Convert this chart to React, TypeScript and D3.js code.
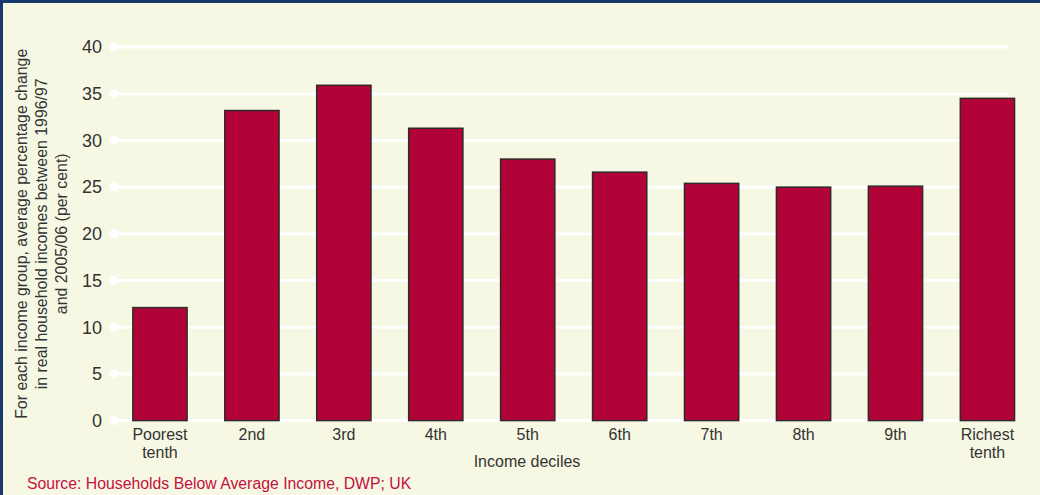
import React from "react";
import * as d3 from "d3";

const categories = ["Poorest tenth", "2nd", "3rd", "4th", "5th", "6th", "7th", "8th", "9th", "Richest tenth"];
const values = [12.1, 33.2, 35.9, 31.3, 28.0, 26.6, 25.4, 25.0, 25.1, 34.5];
const yTicks = [0, 5, 10, 15, 20, 25, 30, 35, 40];
const yTitleLines = [
  "For each income group, average percentage change",
  "in real household incomes between 1996/97",
  "and 2005/06 (per cent)",
];
const xTitle = "Income deciles";
const source = "Source: Households Below Average Income, DWP; UK";

const W = 1040;
const H = 495;
const FONT = "'Liberation Sans', Arial, Helvetica, sans-serif";

export default function App() {
  const x = d3
    .scaleBand<string>()
    .domain(categories)
    .range([114, 1033.4])
    .paddingInner(0.41)
    .paddingOuter(0.205);
  const y = d3.scaleLinear().domain([0, 40]).range([420.6, 47]);
  const gridX0 = 114;
  const gridX1 = 1009;
  const yMid = (y(0) + y(40)) / 2;

  return (
    <svg
      width={W}
      height={H}
      style={{ position: "absolute", left: 0, top: 0 }}
      fontFamily={FONT}
    >
      <rect x={0} y={0} width={W} height={H} fill="#f7f8e4" />
      <rect x={0} y={0} width={W} height={3} fill="#163a6c" />
      <rect x={0} y={0} width={3} height={H} fill="#163a6c" />

      {/* gridlines */}
      {yTicks.map((t) => (
        <g key={t}>
          <line x1={gridX0} x2={gridX1} y1={y(t)} y2={y(t)} stroke="#ffffff" strokeWidth={3} />
          <circle cx={gridX0} cy={y(t)} r={4.5} fill="#ffffff" />
          <text
            x={102}
            y={y(t)}
            dy="0.35em"
            textAnchor="end"
            fontSize={18}
            fill="#333333"
          >
            {t}
          </text>
        </g>
      ))}

      {/* bars */}
      {categories.map((c, i) => (
        <rect
          key={c}
          x={x(c)!}
          y={y(values[i])}
          width={x.bandwidth()}
          height={y(0) - y(values[i])}
          fill="#b10337"
          stroke="#2e2a2a"
          strokeWidth={1.5}
        />
      ))}

      {/* category labels */}
      {categories.map((c) => {
        const parts = c.split(" ");
        const cx = x(c)! + x.bandwidth() / 2;
        return (
          <text key={c} x={cx} textAnchor="middle" fontSize={16} fill="#333333">
            {parts.map((p, j) => (
              <tspan key={j} x={cx} y={439.5 + j * 18}>
                {p}
              </tspan>
            ))}
          </text>
        );
      })}

      {/* x title */}
      <text x={527} y={467} textAnchor="middle" fontSize={16} fill="#333333">
        {xTitle}
      </text>

      {/* y title */}
      <g transform={`translate(0, ${yMid}) rotate(-90)`}>
        {yTitleLines.map((l, i) => (
          <text key={i} x={0} y={27 + i * 20} textAnchor="middle" fontSize={15.9} fill="#333333">
            {l}
          </text>
        ))}
      </g>

      {/* source */}
      <text x={27} y={489} fontSize={15.8} fill="#c4103f">
        {source}
      </text>
    </svg>
  );
}
